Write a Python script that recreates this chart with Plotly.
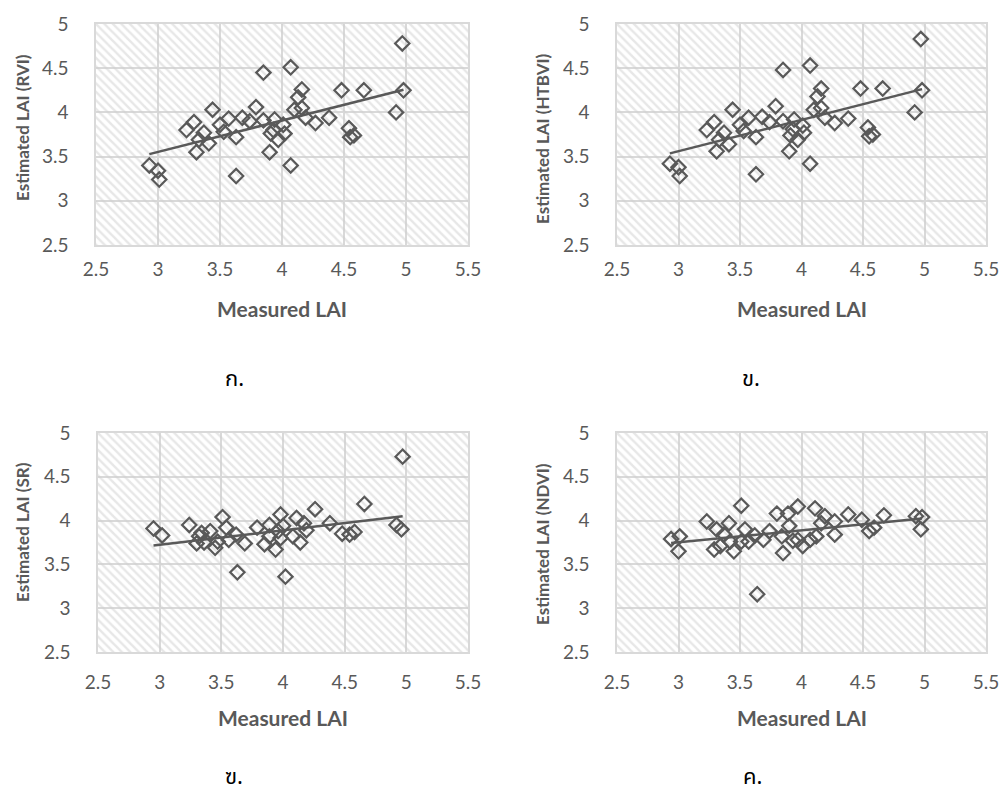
import numpy as np
import plotly.graph_objects as go

# ---------------- data ----------------
measured_top = [2.93, 3.00, 3.01, 3.23, 3.29, 3.31, 3.33, 3.37, 3.41, 3.44, 3.50, 3.53,
                3.57, 3.63, 3.63, 3.68, 3.74, 3.79, 3.85, 3.85, 3.90, 3.91, 3.94, 3.93,
                3.97, 4.01, 4.02, 4.07, 4.07, 4.10, 4.13, 4.16, 4.16, 4.19, 4.27, 4.38,
                4.48, 4.54, 4.55, 4.58, 4.66, 4.92, 4.97, 4.98]
est_rvi = [3.40, 3.34, 3.24, 3.80, 3.89, 3.55, 3.69, 3.77, 3.65, 4.03, 3.86, 3.78,
           3.93, 3.72, 3.28, 3.94, 3.90, 4.06, 4.45, 3.91, 3.55, 3.76, 3.92, 3.80,
           3.69, 3.86, 3.76, 4.51, 3.40, 4.03, 4.17, 4.26, 4.05, 3.94, 3.88, 3.94,
           4.25, 3.82, 3.72, 3.74, 4.25, 4.00, 4.78, 4.25]
est_htbvi = [3.42, 3.38, 3.28, 3.80, 3.89, 3.56, 3.69, 3.77, 3.64, 4.03, 3.86, 3.79,
             3.94, 3.72, 3.30, 3.95, 3.89, 4.07, 4.48, 3.90, 3.56, 3.74, 3.92, 3.81,
             3.69, 3.85, 3.77, 4.53, 3.42, 4.03, 4.18, 4.27, 4.05, 3.94, 3.88, 3.93,
             4.27, 3.83, 3.73, 3.75, 4.27, 4.00, 4.83, 4.25]

measured_sr = [2.95, 3.02, 3.24, 3.30, 3.32, 3.34, 3.36, 3.41, 3.45, 3.47, 3.51, 3.54,
               3.56, 3.62, 3.63, 3.69, 3.79, 3.85, 3.89, 3.89, 3.94, 3.96, 3.98, 3.98,
               4.00, 4.02, 4.08, 4.11, 4.14, 4.17, 4.19, 4.26, 4.38, 4.48, 4.54, 4.58,
               4.66, 4.92, 4.97, 4.96]
est_sr = [3.91, 3.83, 3.95, 3.74, 3.82, 3.86, 3.75, 3.88, 3.69, 3.76, 4.04, 3.92,
          3.78, 3.84, 3.41, 3.74, 3.92, 3.73, 3.95, 3.82, 3.67, 3.88, 4.07, 3.80,
          3.94, 3.36, 3.82, 4.03, 3.75, 3.97, 3.89, 4.13, 3.97, 3.85, 3.84, 3.87,
          4.19, 3.95, 4.73, 3.90]

measured_ndvi = [2.94, 3.01, 3.00, 3.23, 3.29, 3.31, 3.34, 3.37, 3.41, 3.42, 3.45, 3.51,
                 3.51, 3.54, 3.57, 3.62, 3.64, 3.69, 3.74, 3.80, 3.84, 3.85, 3.89, 3.90,
                 3.93, 3.97, 3.97, 4.01, 4.07, 4.11, 4.12, 4.16, 4.19, 4.27, 4.27, 4.38,
                 4.49, 4.55, 4.59, 4.67, 4.93, 4.98, 4.97]
est_ndvi = [3.79, 3.82, 3.65, 3.99, 3.67, 3.90, 3.71, 3.84, 3.97, 3.76, 3.65, 4.17,
            3.76, 3.90, 3.76, 3.83, 3.16, 3.78, 3.88, 4.08, 3.82, 3.63, 4.08, 3.94,
            3.77, 4.16, 3.78, 3.71, 3.78, 4.14, 3.82, 3.97, 4.05, 3.99, 3.84, 4.07,
            4.01, 3.88, 3.92, 4.06, 4.05, 4.04, 3.90]

y_titles = ["Estimated LAI (RVI)", "Estimated LAI (HTBVI)", "Estimated LAI (SR)", "Estimated LAI (NDVI)"]
x_title = "Measured LAI"
panel_labels = ["ก.", "ข.", "ฃ.", "ค."]
tick_vals = [2.5, 3, 3.5, 4, 4.5, 5, 5.5]
y_tick_vals = [2.5, 3, 3.5, 4, 4.5, 5]

panels = [(measured_top, est_rvi), (measured_top, est_htbvi),
          (measured_sr, est_sr), (measured_ndvi, est_ndvi)]

# ---------------- layout geometry (pixels) ----------------
W, H = 1002, 796
boxes = [(96, 468, 24, 245), (617, 986, 24, 245), (98, 468, 433, 652), (617, 986, 433, 652)]
ytitle_pos = [(22, 128), (542, 139), (22, 532), (542, 544)]
xtitle_y = [308, 308, 717, 717]
xtick_len = [6, 6, 12, 12]
# (x centre, y, anchor) in pixels
label_pos = [(234, 380, "middle"), (751, 379, "middle"), (234, 795, "bottom"), (752, 795, "bottom")]

GREY = "#595959"
GRID = "#d9d9d9"
FONT = "Lato, Open Sans, sans-serif"

fig = go.Figure()
for i, (xs, ys) in enumerate(panels):
    n = i + 1
    xa = "x" if n == 1 else f"x{n}"
    ya = "y" if n == 1 else f"y{n}"
    # hatched background
    fig.add_trace(go.Scatter(x=[2.5, 5.5, 5.5, 2.5, 2.5], y=[2.5, 2.5, 5, 5, 2.5],
                             xaxis=xa, yaxis=ya, mode="none", fill="toself",
                             fillcolor="rgba(0,0,0,0)",
                             fillpattern=dict(shape="\\", fgcolor="#cfcfcf", size=6, solidity=0.4,
                                              bgcolor="rgba(0,0,0,0)"),
                             hoverinfo="skip", showlegend=False))
    # trendline
    xs_a = np.array(xs); ys_a = np.array(ys)
    m, b = np.polyfit(xs_a, ys_a, 1)
    tx = np.array([xs_a.min(), xs_a.max()])
    fig.add_trace(go.Scatter(x=tx, y=m * tx + b, xaxis=xa, yaxis=ya, mode="lines",
                             line=dict(color=GREY, width=2.5), showlegend=False))
    fig.add_trace(go.Scatter(x=xs, y=ys, xaxis=xa, yaxis=ya, mode="markers",
                             marker=dict(symbol="diamond-open", size=11, color=GREY,
                                         line=dict(color=GREY, width=2.2)),
                             showlegend=False))

    x0, x1, y0, y1 = boxes[i]
    xkey = "xaxis" if n == 1 else f"xaxis{n}"
    ykey = "yaxis" if n == 1 else f"yaxis{n}"
    fig.layout[xkey] = dict(domain=[x0 / W, x1 / W], anchor=ya, range=[2.5, 5.5],
                            automargin=False,
                            tickvals=tick_vals, ticktext=[f"{v:g}" for v in tick_vals],
                            showgrid=True, gridcolor=GRID, gridwidth=1.5,
                            showline=True, linecolor=GRID, linewidth=1.5, mirror=True,
                            zeroline=False, ticks="outside", ticklen=xtick_len[i],
                            tickcolor="rgba(0,0,0,0)",
                            tickfont=dict(family=FONT, size=19, color=GREY))
    fig.layout[ykey] = dict(domain=[1 - y1 / H, 1 - y0 / H], anchor=xa, range=[2.5, 5],
                            automargin=False,
                            tickvals=y_tick_vals, ticktext=[f"{v:g}" for v in y_tick_vals],
                            showgrid=True, gridcolor=GRID, gridwidth=1.5,
                            showline=True, linecolor=GRID, linewidth=1.5, mirror=True,
                            zeroline=False, ticks="outside", ticklen=22,
                            tickcolor="rgba(0,0,0,0)",
                            tickfont=dict(family=FONT, size=19, color=GREY))

    fig.add_annotation(x=(x0 + x1) / 2 / W, y=1 - xtitle_y[i] / H, xref="paper", yref="paper",
                       text=f"<b>{x_title}</b>", showarrow=False, xanchor="center", yanchor="middle",
                       font=dict(family=FONT, size=21, color=GREY))
    tx_, ty_ = ytitle_pos[i]
    fig.add_annotation(x=tx_ / W, y=1 - ty_ / H, xref="paper", yref="paper",
                       text=f"<b>{y_titles[i]}</b>", showarrow=False, textangle=-90,
                       xanchor="center", yanchor="middle",
                       font=dict(family=FONT, size=17, color=GREY))
    lx, ly, anc = label_pos[i]
    fig.add_annotation(x=lx / W, y=1 - ly / H, xref="paper", yref="paper",
                       text=panel_labels[i], showarrow=False, xanchor="center", yanchor=anc,
                       borderpad=0,
                       font=dict(family="Noto Sans Thai, Noto Sans, DejaVu Sans, sans-serif", size=22, color="#000000"))

fig.update_layout(width=W, height=H, margin=dict(l=0, r=0, t=0, b=0, autoexpand=False),
                  paper_bgcolor="white", plot_bgcolor="white", showlegend=False)

fig.write_html("out.html", post_script="document.body.style.margin='0px';")
